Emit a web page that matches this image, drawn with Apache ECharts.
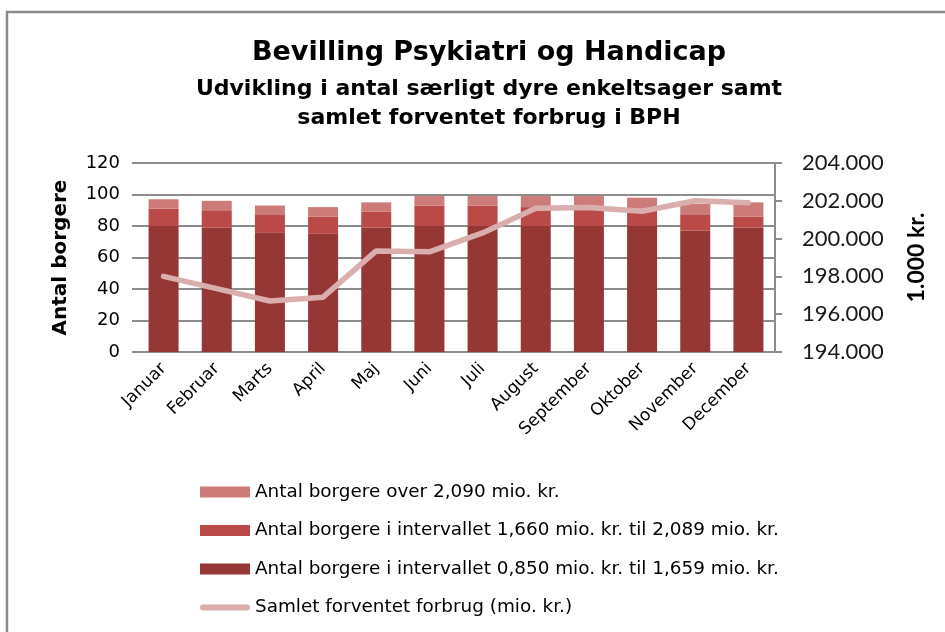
<!DOCTYPE html>
<html>
<head>
<meta charset="utf-8">
<script src="https://cdn.jsdelivr.net/npm/echarts@6/dist/echarts.min.js"></script>
<style>
  html, body { margin: 0; padding: 0; background: #fff; }
  #chart { width: 945px; height: 632px; }
</style>
</head>
<body>
<div id="chart"></div>
<script>
// måneder og værdier
const months = ['Januar', 'Februar', 'Marts', 'April', 'Maj', 'Juni', 'Juli', 'August', 'September', 'Oktober', 'November', 'December'];
const antalLav = [80, 79, 76, 75, 79, 80, 80, 80, 80, 80, 77, 79];   // 0,850 - 1,659 mio. kr.
const antalMellem = [11, 11, 11, 11, 10, 13, 13, 12, 12, 11, 10, 7]; // 1,660 - 2,089 mio. kr.
const antalHoej = [6, 6, 6, 6, 6, 6, 6, 7, 7, 7, 7, 9];              // over 2,090 mio. kr.
const forbrug = [198000, 197350, 196700, 196900, 199350, 199300, 200300, 201600, 201650, 201450, 202000, 201900];

const leftTicks = { min: 0, max: 120, interval: 20 };
const rightTicks = { min: 194000, max: 204000, interval: 2000 };

const names = [
  'Antal borgere over 2,090 mio. kr.',
  'Antal borgere i intervallet 1,660 mio. kr. til 2,089 mio. kr.',
  'Antal borgere i intervallet 0,850 mio. kr. til 1,659 mio. kr.',
  'Samlet forventet forbrug (mio. kr.)'
];

const gridColor = '#8c8c8c';
const font = '"DejaVu Sans", sans-serif';
const numFont = 'Lato, sans-serif';

const myChart = echarts.init(document.getElementById('chart'));

const option = {
  backgroundColor: '#fff',
  textStyle: { fontFamily: font },
  graphic: [{
    type: 'rect',
    shape: { x: 7, y: 12, width: 1000, height: 700 },
    style: { fill: 'none', stroke: '#8a8a8a', lineWidth: 2.5 },
    silent: true
  }],
  title: {
    text: 'Bevilling Psykiatri og Handicap',
    subtext: 'Udvikling i antal særligt dyre enkeltsager samt\nsamlet forventet forbrug i BPH',
    left: 484,
    textAlign: 'center',
    top: 34,
    itemGap: 9,
    textStyle: { fontSize: 27, fontWeight: 'bold', color: '#000', fontFamily: font },
    subtextStyle: { fontSize: 22, fontWeight: 'bold', color: '#000', lineHeight: 29, fontFamily: font, align: 'center' }
  },
  legend: {
    orient: 'vertical',
    left: 195,
    top: 478,
    itemWidth: 50,
    itemHeight: 11,
    itemGap: 20.5,
    textStyle: { fontSize: 18.4, color: '#000', lineHeight: 17 },
    data: [
      { name: names[0], icon: 'rect' },
      { name: names[1], icon: 'rect' },
      { name: names[2], icon: 'rect' },
      { name: names[3], icon: 'path://M3,0 L47,0 A3,3 0 0 1 47,6 L3,6 A3,3 0 0 1 3,0 Z' }
    ]
  },
  grid: { left: 137, right: 170, top: 163, bottom: 280 },
  xAxis: {
    type: 'category',
    data: months,
    axisLine: { lineStyle: { color: gridColor, width: 2 } },
    axisTick: { show: false },
    axisLabel: { rotate: 45, interval: 0, fontSize: 17, color: '#000', margin: 14 }
  },
  yAxis: [
    {
      type: 'value',
      min: leftTicks.min,
      max: leftTicks.max,
      interval: leftTicks.interval,
      name: 'Antal borgere',
      nameLocation: 'middle',
      nameRotate: 90,
      nameGap: 66,
      nameTextStyle: { fontSize: 20, fontWeight: 'bold', color: '#000' },
      axisLine: { show: false },
      axisTick: { show: true, length: 5, lineStyle: { color: gridColor, width: 2 } },
      axisLabel: { fontSize: 18, color: '#000', margin: 17 },
      splitLine: { lineStyle: { color: gridColor, width: 2 } }
    },
    {
      type: 'value',
      position: 'right',
      min: rightTicks.min,
      max: rightTicks.max,
      interval: rightTicks.interval,
      name: '1.000 kr.',
      nameLocation: 'middle',
      nameRotate: 90,
      nameGap: 130,
      nameTextStyle: { fontSize: 23, fontWeight: 'bold', color: '#000', fontFamily: numFont },
      axisLine: { show: true, lineStyle: { color: gridColor, width: 2 } },
      axisTick: { show: true, length: 7, lineStyle: { color: gridColor, width: 2 } },
      axisLabel: {
        fontSize: 22,
        color: '#1a1a1a',
        fontFamily: numFont,
        margin: 27,
        formatter: v => String(v / 1000) + '.000'
      },
      splitLine: { show: false }
    }
  ],
  series: [
    {
      name: names[2],
      type: 'bar',
      stack: 'antal',
      barWidth: 30,
      itemStyle: { color: '#953735' },
      data: antalLav
    },
    {
      name: names[1],
      type: 'bar',
      stack: 'antal',
      barWidth: 30,
      itemStyle: { color: '#b94a48' },
      data: antalMellem
    },
    {
      name: names[0],
      type: 'bar',
      stack: 'antal',
      barWidth: 30,
      itemStyle: { color: '#cd7b79' },
      data: antalHoej
    },
    {
      name: names[3],
      type: 'line',
      yAxisIndex: 1,
      symbol: 'none',
      lineStyle: { color: '#dbaeae', width: 5.5, cap: 'round' },
      itemStyle: { color: '#dbaeae' },
      data: forbrug,
      z: 5
    }
  ]
};

myChart.setOption(option);
</script>
</body>
</html>
